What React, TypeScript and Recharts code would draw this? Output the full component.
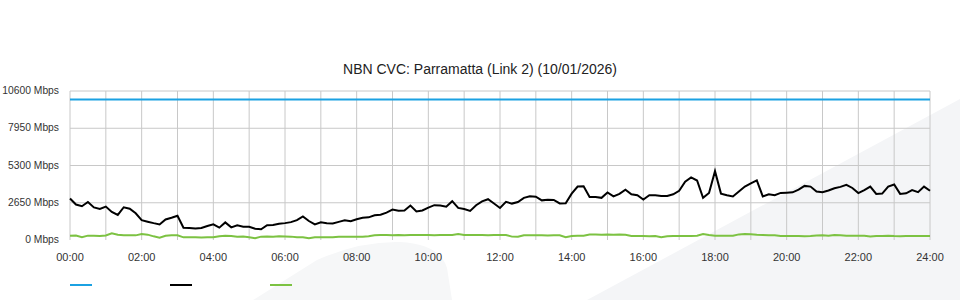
import React from "react"
import { LineChart, Line, XAxis, YAxis, CartesianGrid } from "recharts"

const TITLE = "NBN CVC: Parramatta (Link 2) (10/01/2026)"

// 10-minute samples across the day (minutes since midnight)
const STEP_MINUTES = 10
const Y_MAX = 10600
const yTicks = [0, 2650, 5300, 7950, 10600]
const hourTicks = [0, 60, 120, 180, 240, 300, 360, 420, 480, 540, 600, 660, 720, 780, 840, 900, 960, 1020, 1080, 1140, 1200, 1260, 1320, 1380, 1440]

// CVC capacity
const capacityTimes = [0, 1440]
const capacity = [10000, 10000]

// utilisation (Mbps)
const usage = [
  2950, 2520, 2400, 2700, 2320, 2210, 2380, 2000, 1780, 2330,
  2230, 1900, 1410, 1300, 1200, 1110, 1460, 1580, 1720, 870,
  860, 820, 850, 1000, 1120, 880, 1250, 900, 1050, 950,
  940, 800, 760, 1050, 1060, 1150, 1200, 1270, 1410, 1680,
  1350, 1110, 1260, 1200, 1180, 1290, 1410, 1330, 1480, 1580,
  1610, 1760, 1800, 1950, 2170, 2080, 2100, 2450, 2030, 2100,
  2300, 2480, 2450, 2370, 2760, 2280, 2200, 2070, 2470, 2750,
  2900, 2600, 2280, 2710, 2590, 2700, 3000, 3110, 3080, 2820,
  2870, 2850, 2600, 2620, 3300, 3800, 3820, 3060, 3060, 3000,
  3380, 3100, 3280, 3580, 3250, 3180, 2880, 3180, 3180, 3130,
  3130, 3250, 3500, 4150, 4450, 4230, 3000, 3350, 4900, 3300,
  3180, 3100, 3450, 3800, 4030, 4240, 3100, 3250, 3180, 3350,
  3370, 3390, 3580, 3850, 3800, 3450, 3400, 3520, 3680, 3780,
  3930, 3700, 3340, 3550, 3800, 3280, 3300, 3800, 3950, 3280,
  3320, 3550, 3400, 3800, 3500,
]

// upload / other (Mbps)
const upload = [
  300, 320, 200, 310, 300, 290, 320, 480, 380, 340,
  340, 330, 420, 380, 260, 170, 300, 340, 330, 190,
  190, 190, 180, 190, 200, 270, 300, 290, 230, 240,
  200, 130, 240, 250, 240, 260, 250, 240, 190, 200,
  130, 190, 200, 190, 200, 230, 230, 230, 240, 230,
  260, 330, 350, 350, 340, 350, 340, 350, 360, 350,
  350, 340, 350, 350, 360, 420, 360, 350, 350, 350,
  340, 350, 350, 360, 240, 230, 330, 340, 330, 340,
  320, 330, 340, 200, 280, 300, 310, 390, 390, 380,
  390, 380, 390, 380, 290, 280, 280, 270, 280, 200,
  260, 280, 280, 290, 280, 300, 420, 350, 300, 310,
  300, 300, 400, 420, 410, 380, 360, 340, 340, 280,
  290, 280, 280, 270, 290, 320, 330, 310, 350, 330,
  300, 300, 310, 300, 250, 280, 290, 300, 280, 270,
  280, 290, 280, 280, 280,
]

const seriesColors = ["#1ba1e2", "#000000", "#7cc242"]

const rows = usage.map((v, i) => ({ t: i * STEP_MINUTES, usage: v, upload: upload[i] }))
const capacityRows = capacityTimes.map((t, i) => ({ t, capacity: capacity[i] }))

const fmtHour = (m: number) => {
  const h = Math.round(m / 60)
  if (h % 2 !== 0) return ""
  return `${String(h).padStart(2, "0")}:00`
}

const FONT = "'Liberation Sans', Arial, sans-serif"

// horizontal grid lines for every y tick except the baseline
const hGrid = (props: any) => {
  const off = props?.offset || {}
  const top = off.top ?? 91
  const h = off.height ?? 149
  return yTicks.filter((v) => v > 0).map((v) => top + h * (1 - v / Y_MAX))
}

// plain svg text so "10600 Mbps" doesn't wrap
const YTick = ({ x, y, payload }: any) => (
  <text x={x} y={y} dy="0.3em" textAnchor="end" fill="#333" fontSize={10.3} fontFamily={FONT}>
    {`${payload.value} Mbps`}
  </text>
)

export default function App() {
  return (
    <div style={{ position: "absolute", left: 0, top: 0, width: 960, height: 300, background: "#fff", overflow: "hidden", fontFamily: FONT }}>
      {/* faint watermark shapes in the background */}
      <svg width={960} height={300} style={{ position: "absolute", left: 0, top: 0 }}>
        <path d="M587,300 L960,99 L960,300 Z" fill="#f4f5f7" />
        <path d="M253,300 L317,260 Q360,241 400,242 Q440,244 447,268 L452,300 Z" fill="#f6f7f8" />
      </svg>
      <div style={{ position: "absolute", left: 0, top: 61, width: 960, textAlign: "center", fontSize: 14, color: "#222" }}>
        {TITLE}
      </div>
      <div style={{ position: "absolute", left: 0, top: 0 }}>
        <LineChart width={960} height={300} data={rows} margin={{ top: 91, right: 30, bottom: 30, left: 0 }}>
          <CartesianGrid stroke="#c8c8c8" strokeWidth={1} horizontalCoordinatesGenerator={hGrid} />
          <XAxis
            dataKey="t"
            type="number"
            domain={[0, 1440]}
            ticks={hourTicks}
            interval={0}
            tickFormatter={fmtHour}
            axisLine={false}
            tickLine={false}
            tickMargin={7}
            height={30}
            tick={{ fill: "#333", fontSize: 11, fontFamily: FONT }}
          />
          <YAxis
            type="number"
            domain={[0, Y_MAX]}
            ticks={yTicks}
            interval={0}
            axisLine={false}
            tickLine={false}
            tickMargin={5}
            width={70}
            tick={<YTick />}
          />
          <Line data={capacityRows} dataKey="capacity" stroke={seriesColors[0]} strokeWidth={2} dot={false} isAnimationActive={false} />
          <Line dataKey="upload" stroke={seriesColors[2]} strokeWidth={2} dot={false} isAnimationActive={false} />
          <Line dataKey="usage" stroke={seriesColors[1]} strokeWidth={2} dot={false} isAnimationActive={false} />
        </LineChart>
      </div>
      {seriesColors.map((c, i) => (
        <div key={c} style={{ position: "absolute", left: 70 + i * 100, top: 284, width: 22, height: 2, background: c }} />
      ))}
    </div>
  )
}
